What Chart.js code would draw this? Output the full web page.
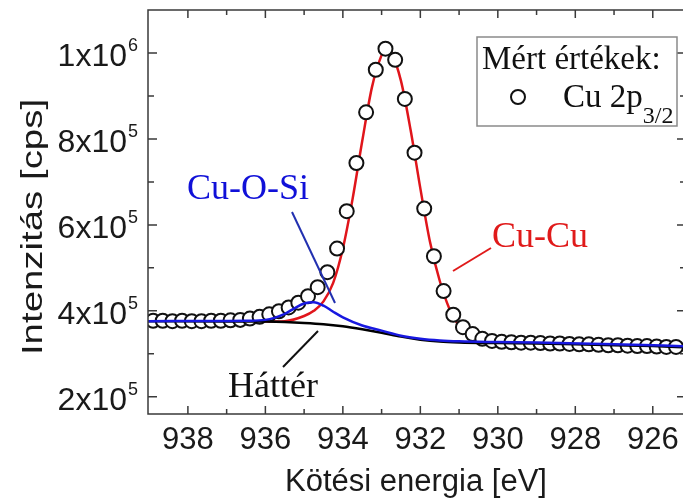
<!DOCTYPE html>
<html lang="hu">
<head>
<meta charset="UTF-8">
<title>Cu 2p3/2 XPS spektrum</title>
<style>
html, body { margin: 0; padding: 0; background: #fff; }
#wrap { width: 692px; height: 504px; position: relative; }
</style>
</head>
<body>
<div id="wrap"><canvas id="xpsChart"></canvas></div>

<script src="https://cdn.jsdelivr.net/npm/chart.js"></script>
<script>
// Mért pontok (Cu 2p3/2), kötési energia [eV] és intenzitás [cps]
const measEnergy = [938.9, 938.65, 938.4, 938.15, 937.9, 937.65, 937.4, 937.15, 936.9, 936.65,
    936.4, 936.15, 935.9, 935.65, 935.4, 935.15, 934.9, 934.65, 934.4, 934.15,
    933.9, 933.65, 933.4, 933.15, 932.9, 932.65, 932.4, 932.15, 931.9, 931.65,
    931.4, 931.15, 930.9, 930.65, 930.4, 930.15, 929.9, 929.65, 929.4, 929.15,
    928.9, 928.65, 928.4, 928.15, 927.9, 927.65, 927.4, 927.15, 926.9, 926.65,
    926.4, 926.15, 925.9, 925.65, 925.4];
const measCounts = [377000, 377000, 376000, 377000, 376000, 376000, 377000, 377000, 378000, 379000,
    382000, 386000, 392000, 399000, 408000, 419000, 434000, 455000, 490000, 545000,
    632000, 744000, 862000, 961000, 1010000, 984000, 893000, 768000, 638000, 527000,
    446000, 391000, 362000, 346000, 335000, 330000, 328000, 327000, 326000, 326000,
    325000, 324000, 324000, 323000, 322000, 322000, 321000, 320000, 320000, 319000,
    318000, 318000, 317000, 316000, 316000];

// Háttér (Shirley-szerű)
const bgEnergy = [939.1, 937, 936, 935.5, 935, 934.5, 934, 933.5, 933, 932.5, 932, 931.5, 931, 930, 929, 928, 927, 926, 925.1];
const bgCounts = [376000, 375500, 375000, 374000, 372000, 369000, 364000, 357000, 349000, 340000, 333000, 328500, 326500, 325000, 324000, 322000, 320000, 318000, 315000];

// Cu-Cu komponens + háttér
const cuCuEnergy = [939.1, 937, 936, 935.5, 935, 934.75, 934.5, 934.25, 934, 933.75, 933.5, 933.25, 933, 932.9,
    932.75, 932.5, 932.25, 932, 931.75, 931.5, 931.25, 931, 930.75, 930.5, 930, 929, 927, 925.1];
const cuCuCounts = [376000, 376000, 375000, 376000, 388000, 400000, 422000, 465000, 545000, 660000, 795000, 920000, 995000, 1010000,
    1000000, 935000, 820000, 685000, 560000, 470000, 405000, 365000, 345000, 335000, 328000, 325500, 321000, 315000];

// Cu-O-Si komponens + háttér
const cuOSiEnergy = [939.1, 937, 936.5, 936, 935.5, 935.25, 935, 934.75, 934.5, 934.25, 934, 933.5, 933, 932.5, 932, 931.5, 931, 930, 929, 927, 925.1];
const cuOSiCounts = [376000, 376500, 377000, 379000, 393000, 406000, 417000, 420000, 412000, 398000, 385000, 366000, 354000, 342000, 335000, 331000, 329000, 327500, 326500, 322500, 317500];

// Tengelyek
const xMajor = [938, 936, 934, 932, 930, 928, 926];
const xMinor = [937, 935, 933, 931, 929, 927];
const yMajor = [200000, 400000, 600000, 800000, 1000000];
const yMinor = [300000, 500000, 700000, 900000];
const yLabelBase = ['2x10', '4x10', '6x10', '8x10', '1x10'];
const yLabelExp = ['5', '5', '5', '5', '6'];

const SANS = '"Liberation Sans", Arial, sans-serif';
const SERIF = '"Liberation Serif", "Times New Roman", serif';

function pts(xs, ys) {
    return xs.map((x, i) => ({ x: x, y: ys[i] }));
}

// keret, befelé mutató osztások, feliratok, jelmagyarázat
const frame = {
    id: 'frame',
    afterDatasetsDraw(chart) {
        const { ctx, chartArea: a, scales: { x, y } } = chart;
        ctx.save();
        ctx.strokeStyle = '#3a3a3a';
        ctx.lineWidth = 1.5;
        ctx.beginPath();
        ctx.moveTo(a.right, a.top);
        ctx.lineTo(a.left, a.top);
        ctx.lineTo(a.left, a.bottom);
        ctx.lineTo(a.right, a.bottom);
        ctx.stroke();

        ctx.beginPath();
        const xTick = (v, len) => {
            const px = x.getPixelForValue(v);
            ctx.moveTo(px, a.bottom); ctx.lineTo(px, a.bottom - len);
            ctx.moveTo(px, a.top); ctx.lineTo(px, a.top + len);
        };
        const yTick = (v, len) => {
            const py = y.getPixelForValue(v);
            ctx.moveTo(a.left, py); ctx.lineTo(a.left + len, py);
            ctx.moveTo(a.right, py); ctx.lineTo(a.right - len + 3, py);
        };
        xMajor.forEach(v => xTick(v, 8));
        xMinor.forEach(v => xTick(v, 5));
        yMajor.forEach(v => yTick(v, 9));
        yMinor.forEach(v => yTick(v, 6));
        ctx.stroke();

        // mutatóvonalak
        ctx.lineWidth = 2;
        ctx.strokeStyle = '#2230b0';
        ctx.beginPath(); ctx.moveTo(292, 212); ctx.lineTo(335, 303); ctx.stroke();
        ctx.strokeStyle = '#111';
        ctx.beginPath(); ctx.moveTo(283, 367); ctx.lineTo(318, 331); ctx.stroke();
        ctx.strokeStyle = '#e01a1a';
        ctx.beginPath(); ctx.moveTo(453, 271); ctx.lineTo(491, 248); ctx.stroke();

        ctx.textAlign = 'left';
        ctx.textBaseline = 'alphabetic';
        ctx.font = '36px ' + SERIF;
        ctx.fillStyle = '#1010d8';
        ctx.fillText('Cu-O-Si', 187, 199);
        ctx.fillStyle = '#e01a1a';
        ctx.fillText('Cu-Cu', 492, 247);
        ctx.fillStyle = '#111';
        ctx.fillText('Háttér', 228, 397);

        // jelmagyarázat
        ctx.fillStyle = '#fff';
        ctx.fillRect(477, 37, 200, 89);
        ctx.strokeStyle = '#8a8a8a';
        ctx.lineWidth = 1.5;
        ctx.strokeRect(477, 37, 200, 89);
        ctx.fillStyle = '#111';
        ctx.font = '33px ' + SERIF;
        ctx.fillText('Mért értékek:', 482, 69);
        ctx.fillText('Cu 2p', 563, 107);
        const w = ctx.measureText('Cu 2p').width;
        ctx.font = '24px ' + SERIF;
        ctx.fillText('3/2', 563 + w, 123);
        ctx.beginPath();
        ctx.arc(518, 97, 7, 0, Math.PI * 2);
        ctx.lineWidth = 2;
        ctx.strokeStyle = '#111';
        ctx.stroke();
        ctx.restore();
    },
    afterDraw(chart) {
        const { ctx, chartArea: a, scales: { x, y } } = chart;
        ctx.save();
        ctx.fillStyle = '#1a1a1a';
        ctx.font = '31px ' + SANS;
        ctx.textAlign = 'center';
        ctx.textBaseline = 'alphabetic';
        xMajor.forEach(v => ctx.fillText(String(v), x.getPixelForValue(v), 449));
        ctx.fillText('Kötési energia [eV]', 416, 491);

        yMajor.forEach((v, i) => {
            const py = y.getPixelForValue(v);
            ctx.font = '32px ' + SANS;
            ctx.textAlign = 'right';
            ctx.fillText(yLabelBase[i], 127, py + 13);
            ctx.font = '18px ' + SANS;
            ctx.textAlign = 'left';
            ctx.fillText(yLabelExp[i], 128, py - 2);
        });

        // függőleges tengelycím, a szöveg irányában nyújtva
        ctx.translate(42, 227);
        ctx.rotate(-Math.PI / 2);
        ctx.scale(1.28, 1);
        ctx.font = '30px ' + SANS;
        ctx.textAlign = 'center';
        ctx.fillText('Intenzitás [cps]', 0, 0);
        ctx.restore();
    }
};

// rajzolási sorrend: nagyobb order kerül alulra (piros, pontok, fekete, kék)
new Chart(document.getElementById('xpsChart'), {
    type: 'scatter',
    data: {
        datasets: [
            {
                label: 'Cu-O-Si',
                data: pts(cuOSiEnergy, cuOSiCounts),
                showLine: true, borderColor: '#1818e0', borderWidth: 2.5, order: 0,
                pointRadius: 0, cubicInterpolationMode: 'monotone', clip: 0
            },
            {
                label: 'Háttér',
                data: pts(bgEnergy, bgCounts),
                showLine: true, borderColor: '#000', borderWidth: 2.5, order: 1,
                pointRadius: 0, cubicInterpolationMode: 'monotone', clip: 0
            },
            {
                label: 'Cu 2p3/2',
                data: pts(measEnergy, measCounts),
                showLine: false, order: 2,
                pointRadius: 7, pointBorderWidth: 2,
                pointBackgroundColor: '#fff', pointBorderColor: '#111', clip: 0
            },
            {
                label: 'Cu-Cu',
                data: pts(cuCuEnergy, cuCuCounts),
                showLine: true, borderColor: '#e0151b', borderWidth: 2.5, order: 3,
                pointRadius: 0, cubicInterpolationMode: 'monotone', clip: 0
            }
        ]
    },
    options: {
        responsive: true,
        maintainAspectRatio: false,
        animation: false,
        devicePixelRatio: 1,
        layout: { padding: { left: 148, top: 10, right: 0, bottom: 90 } },
        plugins: { legend: { display: false }, tooltip: { enabled: false } },
        scales: {
            x: { type: 'linear', reverse: true, min: 925.22, max: 939.03, display: false },
            y: { type: 'linear', min: 160000, max: 1100000, display: false }
        }
    },
    plugins: [frame]
});
</script>
</body>
</html>
